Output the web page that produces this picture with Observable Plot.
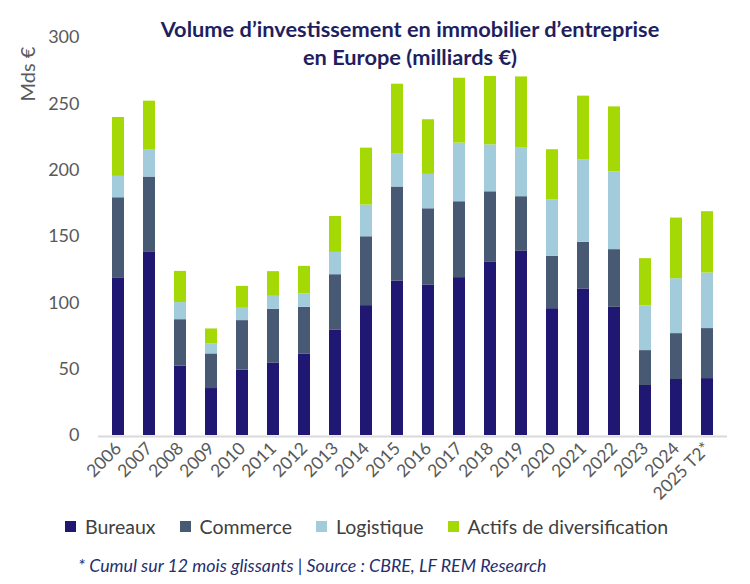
<!DOCTYPE html>
<html lang="fr">
<head>
<meta charset="utf-8">
<title>Volume d’investissement en immobilier d’entreprise en Europe</title>
<script src="https://cdn.jsdelivr.net/npm/d3@7"></script>
<script src="https://cdn.jsdelivr.net/npm/@observablehq/plot@0.6"></script>
<style>
  html, body { margin: 0; padding: 0; background: #fff; }
  #chart { position: relative; width: 750px; height: 584px; font-family: Lato, "Open Sans", sans-serif; overflow: hidden; }
  #chart svg { position: absolute; left: 0; top: 0; }
  .title { position: absolute; left: 70px; width: 680px; top: 15px; text-align: center;
           font-weight: 700; font-size: 21.8px; line-height: 28px; color: #1f1f5f; }
  .ylabel { position: absolute; left: 27px; top: 74px; transform: translate(-50%, -50%) rotate(-90deg);
            font-size: 20px; color: #595959; white-space: nowrap; }
  .legend { position: absolute; left: 65px; top: 515px; display: flex; align-items: center;
            font-size: 19.5px; color: #404040; white-space: nowrap; }
  .legend .item { display: flex; align-items: center; margin-right: 24px; }
  .legend .sw { width: 11px; height: 11px; margin-right: 9px; }
  .caption { position: absolute; left: 78px; top: 554px; font-size: 17.8px; font-style: italic; color: #1f3070; white-space: nowrap; }
</style>
</head>
<body>
<div id="chart"></div>
<script>
// Years on the horizontal axis (the last one is a rolling 12-month total)
const years = ["2006", "2007", "2008", "2009", "2010", "2011", "2012", "2013", "2014", "2015",
               "2016", "2017", "2018", "2019", "2020", "2021", "2022", "2023", "2024", "2025 T2*"];

// Investment volume per asset class, in billions of euros
const bureaux    = [118.4, 138.0, 52.2, 35.4, 49.2, 54.7, 61.5, 79.6, 97.9, 116.5,
                    113.5, 119.0, 130.5, 138.8, 95.6, 110.5, 96.6, 37.7, 42.2, 42.9];
const commerce   = [60.8, 56.8, 35.1, 26.1, 37.4, 40.4, 35.1, 41.6, 51.9, 70.8,
                    57.4, 57.2, 53.2, 41.2, 39.4, 35.1, 43.5, 26.3, 34.6, 37.7];
const logistique = [16.1, 20.3, 12.9, 7.5, 9.3, 9.8, 10.1, 16.8, 23.9, 24.8,
                    25.9, 44.2, 35.4, 36.6, 42.5, 62.2, 58.7, 33.7, 41.4, 41.9];
const actifs     = [44.4, 36.9, 23.5, 11.3, 16.5, 18.6, 20.8, 27.1, 42.9, 52.7,
                    41.2, 48.9, 51.5, 53.7, 37.9, 48.0, 48.9, 35.6, 45.7, 46.2];

const categories = ["Bureaux", "Commerce", "Logistique", "Actifs de diversification"];
const palette = ["#201773", "#485a73", "#a2cbdc", "#a4d905"];
const yTicks = [0, 50, 100, 150, 200, 250, 300];

const titleLines = ["Volume d’investissement en immobilier d’entreprise", "en Europe (milliards €)"];
const yLabel = "Mds €";
const caption = "* Cumul sur 12 mois glissants | Source : CBRE, LF REM Research";

// Long-format table, stacked bottom-up in category order
const series = [bureaux, commerce, logistique, actifs];
const rows = [];
years.forEach((year, i) => {
  categories.forEach((cat, j) => rows.push({year, category: cat, value: series[j][i]}));
});

const plot = Plot.plot({
  width: 750,
  height: 515,
  marginTop: 37,
  marginBottom: 80,
  marginLeft: 98,
  marginRight: 23,
  style: { fontFamily: "Lato, 'Open Sans', sans-serif", color: "#595959", background: "transparent" },
  x: { type: "band", domain: years, paddingInner: 0.6, paddingOuter: 0.3 },
  y: { domain: [0, 300] },
  color: { domain: categories, range: palette },
  marks: [
    Plot.ruleY([0], { stroke: "#d9d9d9", strokeWidth: 2, dy: 1 }),
    Plot.barY(rows, Plot.stackY({ x: "year", y: "value", fill: "category", order: null })),
    Plot.axisY({ ticks: yTicks, tickSize: 0, tickPadding: 19, label: null, fontSize: 18 }),
    Plot.axisX({ tickSize: 0, tickPadding: 10, tickRotate: -45, label: null, fontSize: 17.5 })
  ]
});

const chart = document.getElementById("chart");
chart.appendChild(plot);

const title = document.createElement("div");
title.className = "title";
title.innerHTML = titleLines.join("<br>");
chart.appendChild(title);

const yl = document.createElement("div");
yl.className = "ylabel";
yl.textContent = yLabel;
chart.appendChild(yl);

const legend = document.createElement("div");
legend.className = "legend";
categories.forEach((cat, j) => {
  const item = document.createElement("div");
  item.className = "item";
  const sw = document.createElement("span");
  sw.className = "sw";
  sw.style.background = palette[j];
  const label = document.createElement("span");
  label.textContent = cat;
  item.append(sw, label);
  legend.appendChild(item);
});
chart.appendChild(legend);

const cap = document.createElement("div");
cap.className = "caption";
cap.textContent = caption;
chart.appendChild(cap);
</script>
</body>
</html>
